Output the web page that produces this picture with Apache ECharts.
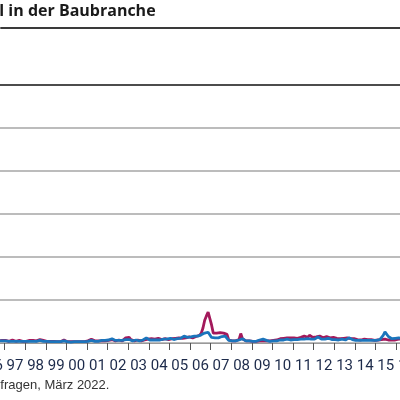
<!DOCTYPE html>
<html>
<head>
<meta charset="utf-8">
<script src="https://cdn.jsdelivr.net/npm/echarts@6/dist/echarts.min.js"></script>
<style>html,body{margin:0;padding:0;background:#fff;overflow:hidden;width:400px;height:400px;position:relative}#c{position:absolute;left:-17.3px;top:0;width:450px;height:400px}</style>
</head>
<body>
<div id="c"></div>
<script>
var titleText = 'l in der Baubranche';
var sourceText = 'fragen, März 2022.';
var years = ['96','97','98','99','00','01','02','03','04','05','06','07','08','09','10','11','12','13','14','15','16'];
var yTicks = [0, 10, 20, 30, 40, 50, 60];
// monthly values, one row per year (1996 .. 2016)
var seriesMagenta = [
 0.6,0.5,0.7,0.5,0.6,0.4,0.5,0.6,0.5,0.7,0.6,0.5,
 0.6,0.5,0.4,0.6,0.7,0.5,0.4,0.5,0.6,0.5,0.4,0.5,
 0.4,0.5,0.6,0.5,0.6,0.7,0.5,0.6,0.8,0.9,0.6,0.5,
 0.4,0.3,0.4,0.3,0.4,0.5,0.3,0.4,0.3,0.6,0.7,0.5,
 0.3,0.2,0.3,0.2,0.3,0.2,0.3,0.2,0.3,0.4,0.3,0.4,
 0.5,0.8,0.9,0.6,0.5,0.4,0.5,0.6,0.5,0.6,0.5,0.6,
 0.6,0.7,0.8,0.6,0.5,0.6,0.7,0.6,0.5,0.7,1.2,1.5,
 1.3,0.8,0.6,0.5,0.6,0.7,0.6,0.5,0.6,0.7,0.8,0.9,
 0.9,1.0,0.8,0.9,1.0,1.1,0.9,0.8,0.9,1.0,0.9,0.8,
 0.9,1.0,1.2,1.1,1.0,1.2,1.3,1.1,1.0,1.2,1.3,1.4,
 1.3,1.2,1.4,1.5,1.6,1.8,2.3,3.5,5.3,6.3,7.2,7.6,
 4.2,2.3,2.2,2.3,2.1,2.4,2.2,2.3,2.5,2.0,0.7,0.5,
 0.5,0.4,0.5,0.6,0.8,2.2,1.0,0.6,0.5,0.4,0.5,0.4,
 0.4,0.3,0.4,0.3,0.5,0.4,0.5,0.6,0.5,0.4,0.5,0.6,
 0.6,0.5,0.7,0.8,1.0,1.2,1.1,1.3,1.2,1.0,1.2,1.3,
 1.2,1.3,1.1,1.4,1.3,1.5,1.6,1.4,1.3,1.8,1.5,1.3,
 1.2,1.4,1.3,1.6,1.4,1.2,1.3,1.5,1.4,1.2,1.1,1.3,
 1.2,1.1,1.3,1.0,1.2,1.1,1.0,1.2,1.1,1.0,0.9,1.0,
 0.9,0.8,0.9,0.7,0.8,0.9,1.0,0.8,0.7,0.8,0.7,0.6,
 0.6,0.7,0.6,0.8,0.7,0.9,0.8,0.7,0.8,0.7,0.6,0.7,
 0.8,0.9,1.0,0.9,1.0,1.1,1.0,1.1,1.2,1.1,1.2,1.3
];
var seriesBlue = [
 0.4,0.5,0.4,0.5,0.4,0.6,0.5,0.4,0.5,0.6,0.5,0.6,
 0.5,0.4,0.4,0.3,0.4,0.5,0.4,0.3,0.4,0.5,0.4,0.4,
 0.4,0.3,0.4,0.5,0.4,0.5,0.4,0.5,0.6,0.5,0.4,0.5,
 0.4,0.3,0.3,0.4,0.3,0.4,0.3,0.4,0.3,0.4,0.5,0.4,
 0.3,0.3,0.2,0.3,0.3,0.2,0.3,0.3,0.3,0.4,0.3,0.3,
 0.4,0.5,0.6,0.5,0.4,0.5,0.4,0.5,0.6,0.5,0.6,0.5,
 0.7,0.8,1.0,0.7,0.6,0.5,0.6,0.5,0.6,0.7,0.8,0.9,
 0.8,0.6,0.5,0.6,0.7,0.6,0.5,0.6,0.7,0.8,1.2,0.9,
 0.7,0.6,0.7,0.8,0.7,0.6,0.7,0.8,0.9,0.8,0.9,1.2,
 1.1,0.9,0.8,0.9,1.0,0.9,1.1,1.3,1.6,1.4,1.3,1.5,
 1.4,1.5,1.6,1.5,1.6,1.7,1.9,2.1,2.3,2.4,2.5,2.3,
 1.3,1.1,1.2,1.0,1.2,1.3,1.5,1.9,1.6,1.1,0.6,0.5,
 0.5,0.4,0.5,0.6,0.7,0.9,1.0,0.7,0.5,0.6,0.5,0.4,
 0.4,0.5,0.4,0.6,0.7,0.8,0.9,0.7,0.6,0.5,0.4,0.5,
 0.5,0.6,0.5,0.6,0.7,0.8,0.7,0.8,0.9,0.8,0.7,0.8,
 0.8,0.9,0.8,0.7,0.9,1.0,0.9,0.8,1.0,1.1,0.9,0.8,
 0.9,1.0,1.4,1.1,0.9,0.8,0.9,1.0,1.1,0.9,0.8,0.9,
 0.8,0.9,0.7,0.8,0.9,0.8,0.7,0.8,1.2,0.9,0.8,0.7,
 0.6,0.7,0.6,0.5,0.6,0.7,0.6,0.5,0.6,0.7,0.6,0.5,
 0.6,0.7,0.8,1.2,1.8,2.6,2.2,1.5,1.1,1.0,1.0,1.1,
 1.1,1.2,1.1,1.0,1.1,1.2,1.1,1.2,1.3,1.2,1.3,1.4
];
var months = [];
years.forEach(function (y) { for (var m = 1; m <= 12; m++) months.push(y + '-' + m); });

var chart = echarts.init(document.getElementById('c'), null, {renderer: 'canvas'});
var off = 17.3;
var gridColors = ['#a6a6a6','#a6a6a6','#a6a6a6','#a6a6a6','#a6a6a6','#a6a6a6','#111111'];
chart.setOption({
  animation: false,
  graphic: [
    {type: 'text', left: off - 1, top: 3, style: {text: titleText, font: 'bold 16px "Open Sans"', fill: '#1a1a1a'}},
    {type: 'line', shape: {x1: off, y1: 28, x2: off + 400, y2: 28}, style: {stroke: '#3a3a3a', lineWidth: 2}},
    {type: 'text', left: off, top: 379, style: {text: sourceText, font: '13px "Liberation Sans"', fill: '#333333'}}
  ],
  grid: {left: 0, width: 433.7, top: 85, bottom: 57},
  xAxis: [
    {type: 'category', data: years, boundaryGap: true,
     axisLine: {show: true, lineStyle: {color: '#999999', width: 1}},
     axisTick: {show: true, length: 7, lineStyle: {color: '#555555'}},
     axisLabel: {color: '#1c2a4a', fontSize: 15, fontFamily: 'Roboto', margin: 16, interval: 0},
     splitLine: {show: false}},
    {type: 'category', data: months, boundaryGap: true, show: false}
  ],
  yAxis: {type: 'value', min: yTicks[0], max: yTicks[yTicks.length - 1], interval: 10,
    axisLabel: {show: false}, axisLine: {show: false}, axisTick: {show: false},
    splitLine: {show: true, lineStyle: {color: gridColors, width: 1.5}}},
  series: [
    {type: 'line', xAxisIndex: 1, data: seriesMagenta, symbol: 'none', lineStyle: {color: '#a3195b', width: 2.8}, z: 3},
    {type: 'line', xAxisIndex: 1, data: seriesBlue, symbol: 'none', lineStyle: {color: '#1b75bc', width: 2.8}, z: 4}
  ]
});
</script>
</body>
</html>
